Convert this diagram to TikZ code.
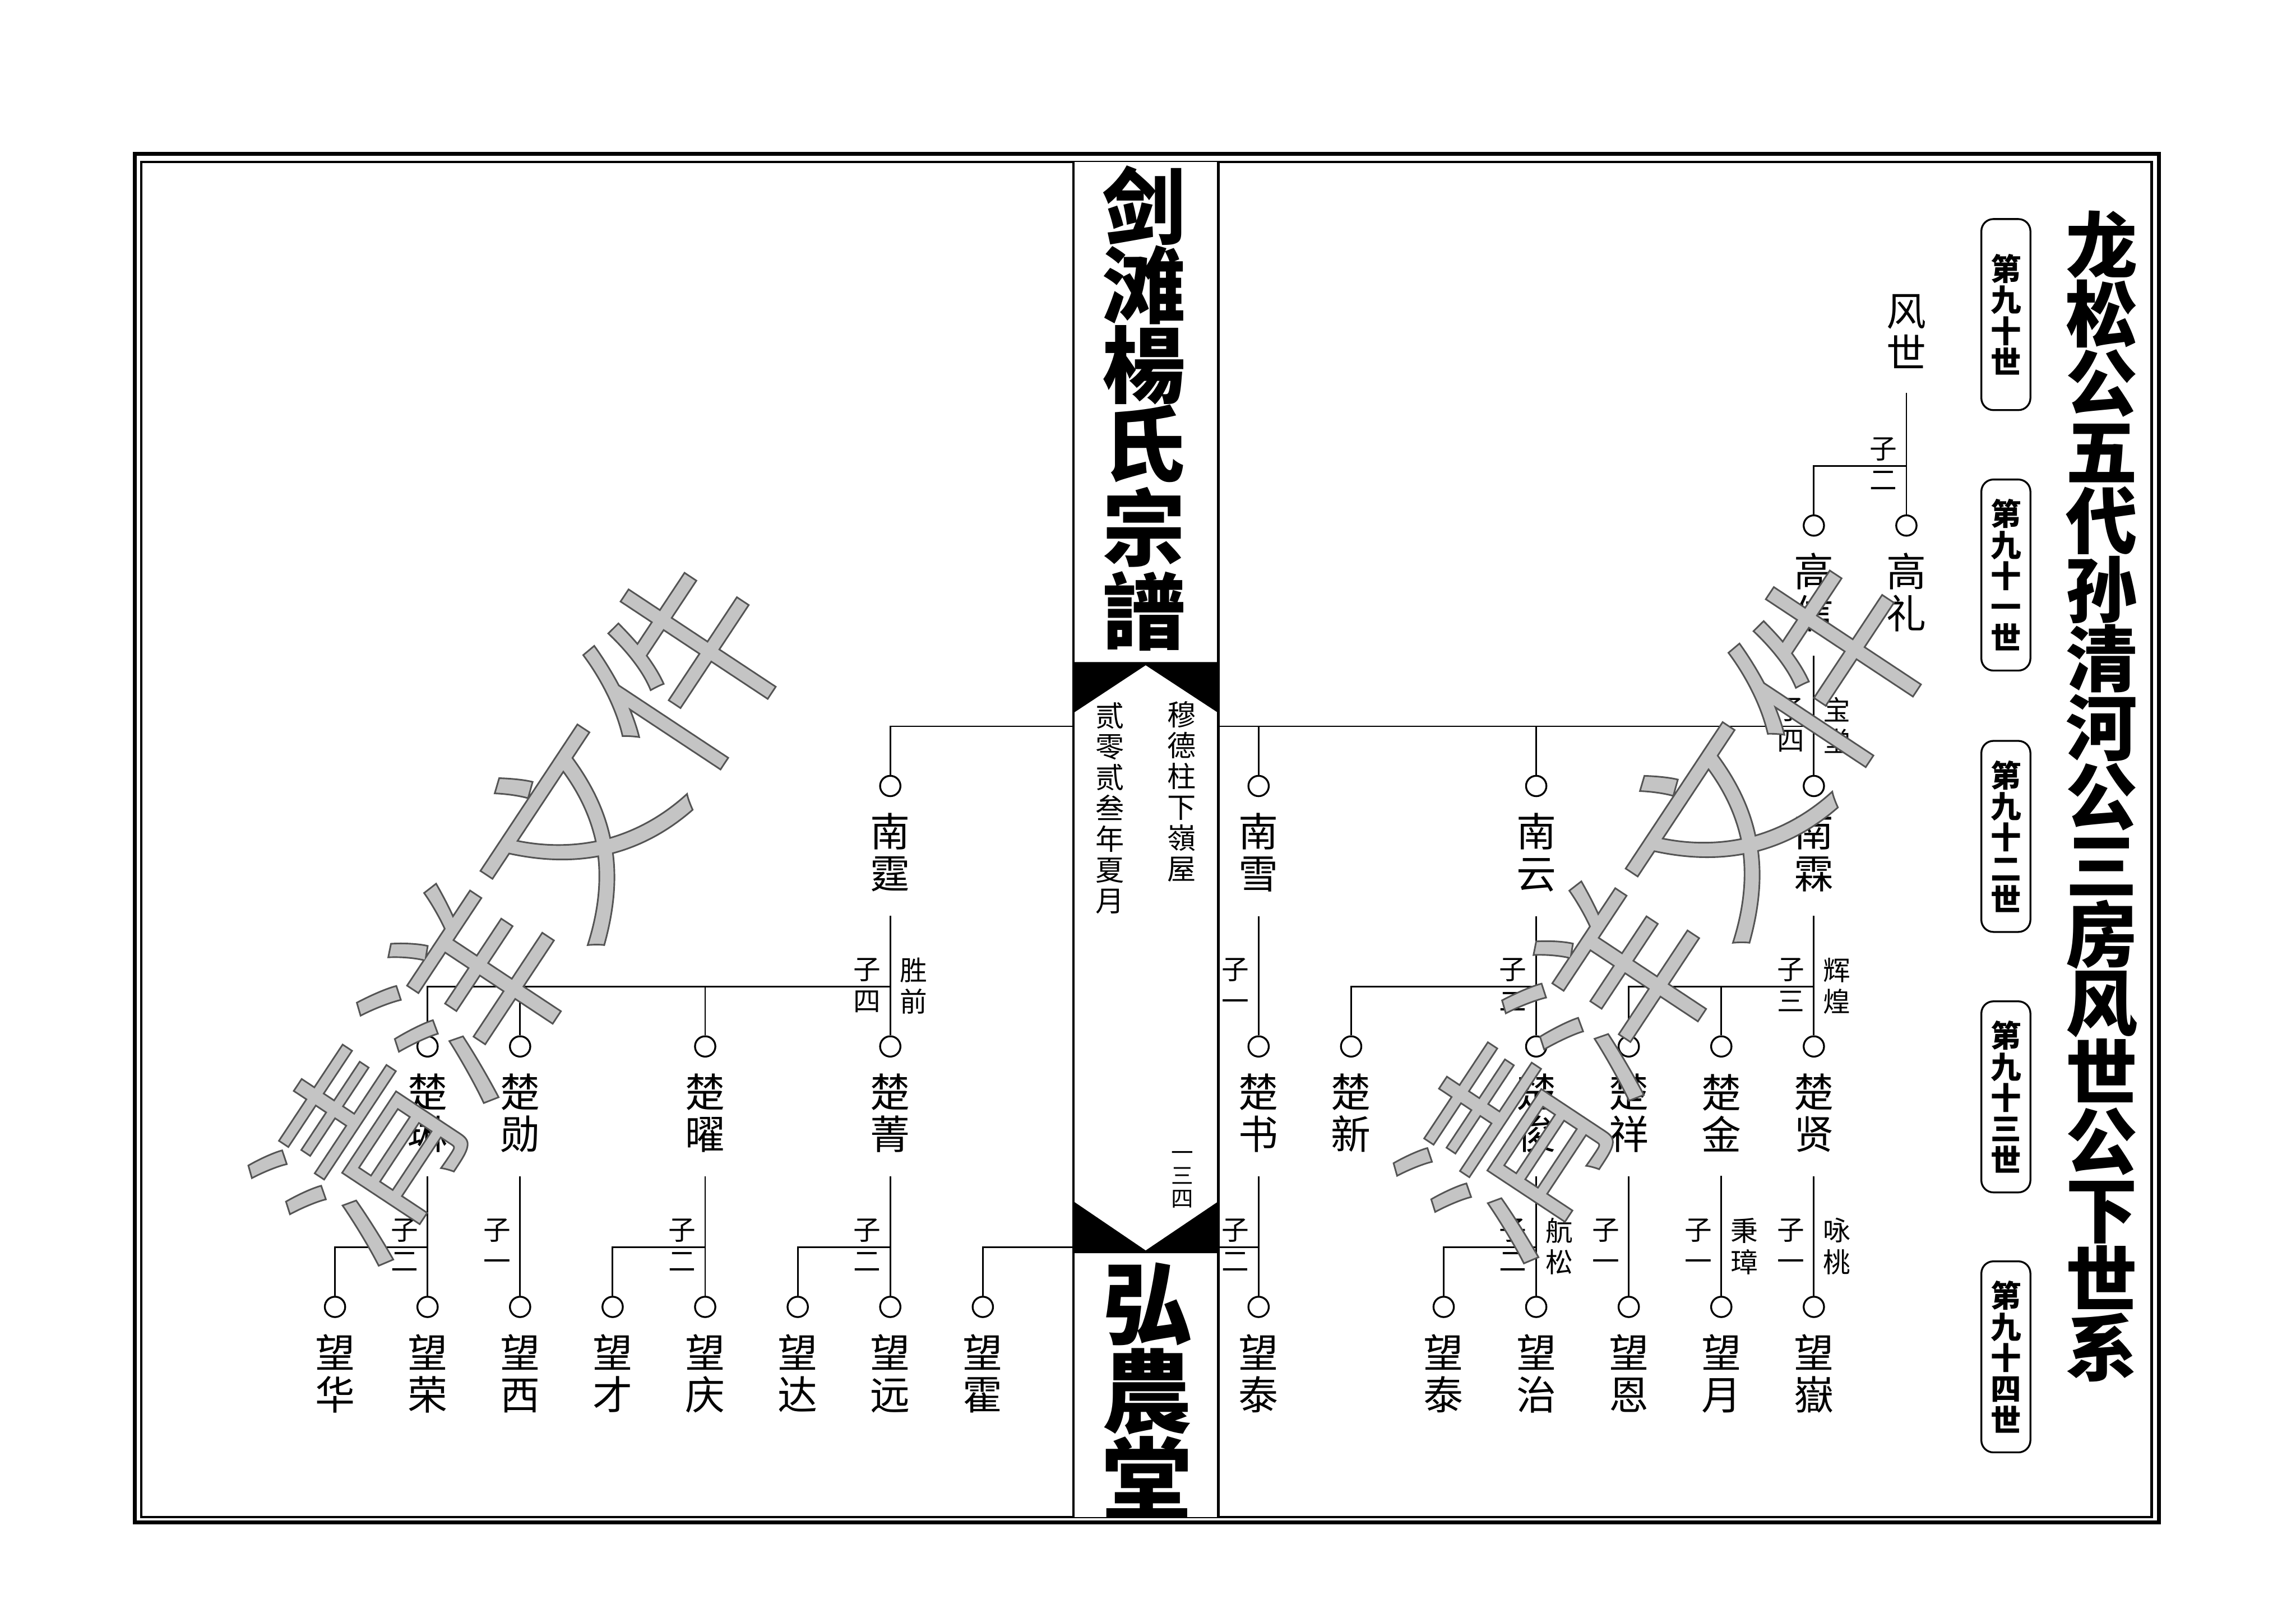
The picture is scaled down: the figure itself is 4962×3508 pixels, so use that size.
\documentclass[tikz,border=0pt]{standalone}
\usepackage{fontspec}
\setmainfont{Noto Sans CJK SC}
\newcommand\zs{\vphantom{国}}
\newcommand\wmtext[1]{\special{pdf:literal direct 0.33 G 0.35 w 2 Tr}#1\special{pdf:literal direct 0 Tr}}
\definecolor{wmfill}{gray}{0.77}
\tikzset{
  pdot/.style={circle,draw,fill=white,line width=0.4pt,minimum size=4.4pt,inner sep=0pt},
  nm/.style={align=center,inner sep=0pt,font=\fontsize{8.6}{9.1}\selectfont},
  lab/.style={align=center,inner sep=0pt,font=\fontsize{5.9}{6.8}\selectfont},
  treeline/.style={line width=0.35pt},
  colline/.style={line width=0.5pt},
  genbox/.style={draw,rounded corners=2.6pt,line width=0.4pt,minimum width=10.6pt,minimum height=41.3pt,inner sep=0pt,align=center,font=\bfseries\fontsize{6.6}{6.7}\selectfont},
  bigtitle/.style={align=center,inner sep=0pt,font=\bfseries\fontsize{15.5}{14.9}\selectfont},
  coltitle/.style={align=center,inner sep=0pt,font=\bfseries\fontsize{18}{17.1}\selectfont},
  hall/.style={align=center,inner sep=0pt,font=\bfseries\fontsize{19.5}{19}\selectfont},
  smalltxt/.style={align=center,inner sep=0pt,font=\fontsize{6.2}{6.65}\selectfont},
  pageno/.style={align=center,inner sep=0pt,font=\fontsize{4.8}{5.0}\selectfont},
  wmark/.style={inner sep=0pt,text=wmfill,font=\fontsize{42}{42}\selectfont,rotate=56.5},
}
\newcommand\person[4]{\node[pdot] (c-#1) at (#2,#3) {}; \node[nm] (#1) at (#2,#3+144) {#4};}
\begin{document}
\begin{tikzpicture}[x=0.1pt,y=-0.1pt]
\useasboundingbox (0,0) rectangle (4962,3508);
% frame
\draw[line width=0.87pt] (291,333) rectangle (4666,3291);
\draw[line width=0.5pt] (305,350) rectangle (4650,3279);

% generation 0 and 1
\node[nm] (fs) at (4120,717) {风\\世};
\person{gl}{4120}{1136}{高\\礼}
\person{gx}{3920}{1136}{高\\信}
% generation 2
\person{nl}{3920}{1699}{南\\霖}
\person{ny}{3320}{1699}{南\\云}
\person{nx}{2720}{1699}{南\\雪}
\person{nt}{1924}{1699}{南\\霆}
% generation 3
\person{cxian}{3920}{2262}{楚\\贤}
\person{cjin}{3720}{2262}{楚\\金}
\person{cxiang}{3520}{2262}{楚\\祥}
\person{cjun}{3320}{2262}{楚\\俊}
\person{cxin}{2920}{2262}{楚\\新}
\person{cshu}{2720}{2262}{楚\\书}
\person{cjing}{1924}{2262}{楚\\菁}
\person{cyao}{1524}{2262}{楚\\曜}
\person{cxun}{1124}{2262}{楚\\勋}
\person{clin}{924}{2262}{楚\\琳}
% generation 4
\person{wyueb}{3920}{2825}{望\\嶽}
\person{wyue}{3720}{2825}{望\\月}
\person{wen}{3520}{2825}{望\\恩}
\person{wzhi}{3320}{2825}{望\\治}
\person{wtaia}{3120}{2825}{望\\泰}
\person{wtaib}{2720}{2825}{望\\泰}
\person{whuo}{2124}{2825}{望\\霍}
\person{wyuan}{1924}{2825}{望\\远}
\person{wda}{1724}{2825}{望\\达}
\person{wqing}{1524}{2825}{望\\庆}
\person{wcai}{1324}{2825}{望\\才}
\person{wxi}{1124}{2825}{望\\西}
\person{wrong}{924}{2825}{望\\荣}
\person{whua}{724}{2825}{望\\华}

% connectors
\coordinate (b-fs) at (4120,1007);
\draw[treeline] ([yshift=-5pt]fs.south) -- (c-gl.north);
\draw[treeline] (b-fs) -| (c-gx.north);
\node[lab] (l-fs) at (4070,1005) {子\\二\zs};

\coordinate (b-gx) at (3920,1570);
\draw[treeline] ([yshift=-5pt]gx.south) -- (c-nl.north);
\draw[treeline] (b-gx) -| (c-ny.north);
\draw[treeline] (b-gx) -| (c-nx.north);
\draw[treeline] (b-gx) -| (c-nt.north);
\node[lab] (l-gx) at (3870,1568) {子\\四\zs};
\node[lab] (r-gx) at (3970,1568) {宝\\堂};

\coordinate (b-nl) at (3920,2133);
\draw[treeline] ([yshift=-5pt]nl.south) -- (c-cxian.north);
\draw[treeline] (b-nl) -| (c-cjin.north);
\draw[treeline] (b-nl) -| (c-cxiang.north);
\node[lab] (l-nl) at (3870,2131) {子\\三\zs};
\node[lab] (r-nl) at (3970,2131) {辉\\煌};

\coordinate (b-ny) at (3320,2133);
\draw[treeline] ([yshift=-5pt]ny.south) -- (c-cjun.north);
\draw[treeline] (b-ny) -| (c-cxin.north);
\node[lab] (l-ny) at (3270,2131) {子\\二\zs};

\draw[treeline] ([yshift=-5pt]nx.south) -- (c-cshu.north);
\node[lab] (l-nx) at (2670,2131) {子\\一\zs};

\coordinate (b-nt) at (1924,2133);
\draw[treeline] ([yshift=-5pt]nt.south) -- (c-cjing.north);
\draw[treeline] (b-nt) -| (c-cyao.north);
\draw[treeline] (b-nt) -| (c-cxun.north);
\draw[treeline] (b-nt) -| (c-clin.north);
\node[lab] (l-nt) at (1874,2131) {子\\四\zs};
\node[lab] (r-nt) at (1974,2131) {胜\\前};

\draw[treeline] ([yshift=-5pt]cxian.south) -- (c-wyueb.north);
\node[lab] (l-cxian) at (3870,2694) {子\\一\zs};
\node[lab] (r-cxian) at (3970,2694) {咏\\桃};

\draw[treeline] ([yshift=-5pt]cjin.south) -- (c-wyue.north);
\node[lab] (l-cjin) at (3670,2694) {子\\一\zs};
\node[lab] (r-cjin) at (3770,2694) {秉\\璋};

\draw[treeline] ([yshift=-5pt]cxiang.south) -- (c-wen.north);
\node[lab] (l-cxiang) at (3470,2694) {子\\一\zs};

\coordinate (b-cjun) at (3320,2696);
\draw[treeline] ([yshift=-5pt]cjun.south) -- (c-wzhi.north);
\draw[treeline] (b-cjun) -| (c-wtaia.north);
\node[lab] (l-cjun) at (3270,2694) {子\\二\zs};
\node[lab] (r-cjun) at (3370,2694) {航\\松};

\coordinate (b-cshu) at (2720,2696);
\draw[treeline] ([yshift=-5pt]cshu.south) -- (c-wtaib.north);
\draw[treeline] (b-cshu) -| (c-whuo.north);
\node[lab] (l-cshu) at (2670,2694) {子\\二\zs};

\coordinate (b-cjing) at (1924,2696);
\draw[treeline] ([yshift=-5pt]cjing.south) -- (c-wyuan.north);
\draw[treeline] (b-cjing) -| (c-wda.north);
\node[lab] (l-cjing) at (1874,2694) {子\\二\zs};

\coordinate (b-cyao) at (1524,2696);
\draw[treeline] ([yshift=-5pt]cyao.south) -- (c-wqing.north);
\draw[treeline] (b-cyao) -| (c-wcai.north);
\node[lab] (l-cyao) at (1474,2694) {子\\二\zs};

\draw[treeline] ([yshift=-5pt]cxun.south) -- (c-wxi.north);
\node[lab] (l-cxun) at (1074,2694) {子\\一\zs};

\coordinate (b-clin) at (924,2696);
\draw[treeline] ([yshift=-5pt]clin.south) -- (c-wrong.north);
\draw[treeline] (b-clin) -| (c-whua.north);
\node[lab] (l-clin) at (874,2694) {子\\二\zs};

% central column
\fill[white] (2320,350) rectangle (2633,3279);
\draw[colline] (2320,350) -- (2320,3279);
\draw[colline] (2633,350) -- (2633,3279);
\fill (2320,1431) -- (2633,1431) -- (2633,1541) -- (2476,1438) -- (2320,1541) -- cycle;
\fill (2320,2597) -- (2476,2703) -- (2633,2597) -- (2633,2709) -- (2320,2709) -- cycle;
\node[coltitle] (t-top) at (2472,883) {剑\\滩\\楊\\氏\\宗\\譜};
\node[smalltxt] (t-place) at (2554,1711) {穆\\德\\柱\\下\\嶺\\屋};
\node[smalltxt] (t-date) at (2399,1747) {贰\\零\\贰\\叁\\年\\夏\\月};
\node[pageno] (t-page) at (2555,2541) {一\zs\\三\\四};
\begin{scope}
\clip (2322,350) rectangle (2631,3279);
\node[hall] (t-hall) at (2479,3007) {弘\\農\\堂};
\end{scope}

% generation boxes
\node[genbox] (g0) at (4335,680) {第\\九\\十\\世};
\node[genbox] (g1) at (4335,1243) {第\\九\\十\\一\\世};
\node[genbox] (g2) at (4335,1808) {第\\九\\十\\二\\世};
\node[genbox] (g3) at (4335,2371) {第\\九\\十\\三\\世};
\node[genbox] (g4) at (4335,2933) {第\\九\\十\\四\\世};

% title
\node[bigtitle] (ttl) at (4542,1721) {龙\\松\\公\\五\\代\\孙\\清\\河\\公\\三\\房\\风\\世\\公\\下\\世\\系};

% watermark
\node[wmark] (wm1) at (1125,1965) {\wmtext{清洋文件}};
\node[wmark] (wm2) at (3600,1960) {\wmtext{清洋文件}};
\end{tikzpicture}
\end{document}
